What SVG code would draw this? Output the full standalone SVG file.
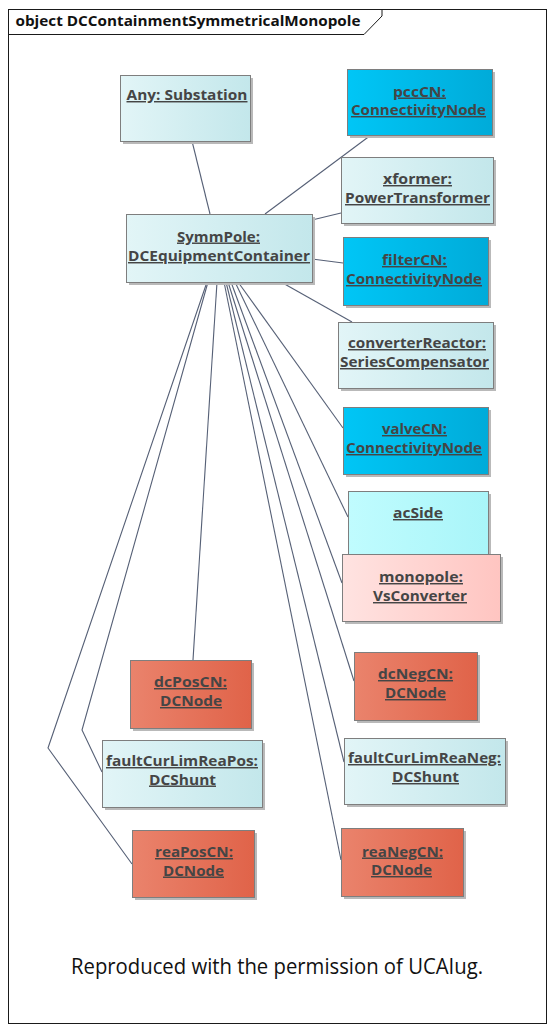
<svg xmlns="http://www.w3.org/2000/svg" width="555" height="1032" viewBox="0 0 555 1032">
<style>
.bg{fill:#ffffff}
.frame{fill:none;stroke:#1a1a1a;stroke-width:1}
.title{font-family:"Open Sans","Liberation Sans",sans-serif;font-weight:700;font-size:15px;fill:#111}
.foot{font-family:"Open Sans","Liberation Sans",sans-serif;font-size:21px;fill:#111}
.box{stroke:#7e7e7e;stroke-width:1}
.sh{fill:#b9b9b9}
.lbl{font-family:"Open Sans","Liberation Sans",sans-serif;font-weight:700;font-size:14.5px;fill:#454545;text-anchor:middle;text-decoration:underline}
.conn{fill:none;stroke:#566076;stroke-width:1.1}
.cy{fill:url(#gCyan)}
.bl{fill:url(#gBlue)}
.ac{fill:url(#gAc)}
.pk{fill:url(#gPink)}
.or{fill:url(#gOr)}
</style>
<defs>
<linearGradient id="gCyan" x1="0" y1="0" x2="1" y2="0"><stop offset="0" stop-color="#e2f5f7"/><stop offset="1" stop-color="#c3e7eb"/></linearGradient>
<linearGradient id="gBlue" x1="0" y1="0" x2="1" y2="0"><stop offset="0" stop-color="#00c6f6"/><stop offset="1" stop-color="#00abd9"/></linearGradient>
<linearGradient id="gAc" x1="0" y1="0" x2="1" y2="0"><stop offset="0" stop-color="#c0fcfe"/><stop offset="1" stop-color="#a9f5f9"/></linearGradient>
<linearGradient id="gPink" x1="0" y1="0" x2="1" y2="0"><stop offset="0" stop-color="#ffe3e1"/><stop offset="1" stop-color="#ffc5c1"/></linearGradient>
<linearGradient id="gOr" x1="0" y1="0" x2="1" y2="0"><stop offset="0" stop-color="#ea836c"/><stop offset="1" stop-color="#e06349"/></linearGradient>
</defs>
<rect class="bg" x="0" y="0" width="555" height="1032"/>
<g id="frame">
<rect class="frame" x="8.5" y="9.5" width="538" height="1014"/>
<path class="frame" d="M8.5,34.5 H364 L382,16 V9.5"/>
<text class="title" x="15.5" y="26" textLength="345" lengthAdjust="spacingAndGlyphs">object DCContainmentSymmetricalMonopole</text>
</g>
<g id="connectors">
<line class="conn" x1="192" y1="141" x2="210" y2="214"/>
<line class="conn" x1="371" y1="135" x2="265" y2="214"/>
<line class="conn" x1="341" y1="213" x2="312" y2="220"/>
<line class="conn" x1="312" y1="259" x2="343" y2="263"/>
<line class="conn" x1="281" y1="282" x2="352" y2="322"/>
<line class="conn" x1="238" y1="282" x2="343" y2="428"/>
<line class="conn" x1="235" y1="282" x2="348" y2="517"/>
<line class="conn" x1="231" y1="282" x2="342" y2="583"/>
<line class="conn" x1="228" y1="282" x2="354" y2="681"/>
<line class="conn" x1="226" y1="282" x2="344" y2="762"/>
<line class="conn" x1="224" y1="282" x2="341" y2="860"/>
<line class="conn" x1="217" y1="282" x2="193" y2="660"/>
<polyline class="conn" points="208,282 82,730 102,772"/>
<polyline class="conn" points="207,282 48,748 132,864"/>
</g>
<g id="anySubstation">
<rect class="sh" x="123" y="78" width="130" height="66"/>
<rect class="box cy" x="120.5" y="75.5" width="130" height="66"/>
<text class="lbl" x="187" y="100" textLength="121" lengthAdjust="spacingAndGlyphs">Any: Substation</text>
</g>
<g id="pccCN">
<rect class="sh" x="350" y="72" width="145" height="66"/>
<rect class="box bl" x="347.5" y="69.5" width="145" height="66"/>
<text class="lbl" x="419.5" y="96.5" textLength="53" lengthAdjust="spacingAndGlyphs">pccCN:</text>
<text class="lbl" x="418.5" y="115" textLength="135" lengthAdjust="spacingAndGlyphs">ConnectivityNode</text>
</g>
<g id="xformer">
<rect class="sh" x="344" y="160" width="152" height="66"/>
<rect class="box cy" x="341.5" y="157.5" width="152" height="66"/>
<text class="lbl" x="417.5" y="184" textLength="69" lengthAdjust="spacingAndGlyphs">xformer:</text>
<text class="lbl" x="417.5" y="203" textLength="145" lengthAdjust="spacingAndGlyphs">PowerTransformer</text>
</g>
<g id="symmPole">
<rect class="sh" x="129" y="217" width="186" height="68"/>
<rect class="box cy" x="126.5" y="214.5" width="186" height="68"/>
<text class="lbl" x="218.5" y="241.5" textLength="83" lengthAdjust="spacingAndGlyphs">SymmPole:</text>
<text class="lbl" x="219" y="261" textLength="182" lengthAdjust="spacingAndGlyphs">DCEquipmentContainer</text>
</g>
<g id="filterCN">
<rect class="sh" x="346" y="240" width="145" height="68"/>
<rect class="box bl" x="343.5" y="237.5" width="145" height="68"/>
<text class="lbl" x="414.5" y="265" textLength="65" lengthAdjust="spacingAndGlyphs">filterCN:</text>
<text class="lbl" x="414" y="284" textLength="136" lengthAdjust="spacingAndGlyphs">ConnectivityNode</text>
</g>
<g id="converterReactor">
<rect class="sh" x="341" y="325" width="155" height="66"/>
<rect class="box cy" x="338.5" y="322.5" width="155" height="66"/>
<text class="lbl" x="417" y="348" textLength="138" lengthAdjust="spacingAndGlyphs">converterReactor:</text>
<text class="lbl" x="414.5" y="367" textLength="149" lengthAdjust="spacingAndGlyphs">SeriesCompensator</text>
</g>
<g id="valveCN">
<rect class="sh" x="346" y="410" width="145" height="67"/>
<rect class="box bl" x="343.5" y="407.5" width="145" height="67"/>
<text class="lbl" x="414.5" y="434" textLength="65" lengthAdjust="spacingAndGlyphs">valveCN:</text>
<text class="lbl" x="414" y="453" textLength="136" lengthAdjust="spacingAndGlyphs">ConnectivityNode</text>
</g>
<g id="acSide">
<rect class="sh" x="351" y="494" width="140" height="66"/>
<rect class="box ac" x="348.5" y="491.5" width="140" height="70"/>
<text class="lbl" x="418" y="518" textLength="50" lengthAdjust="spacingAndGlyphs">acSide</text>
</g>
<g id="monopole">
<rect class="sh" x="345" y="557" width="158" height="67"/>
<rect class="box pk" x="342.5" y="554.5" width="158" height="67"/>
<text class="lbl" x="421" y="582" textLength="84" lengthAdjust="spacingAndGlyphs">monopole:</text>
<text class="lbl" x="420" y="601" textLength="94" lengthAdjust="spacingAndGlyphs">VsConverter</text>
</g>
<g id="dcPosCN">
<rect class="sh" x="133" y="663" width="121" height="68"/>
<rect class="box or" x="130.5" y="660.5" width="121" height="68"/>
<text class="lbl" x="190.5" y="687" textLength="73" lengthAdjust="spacingAndGlyphs">dcPosCN:</text>
<text class="lbl" x="191" y="706" textLength="62" lengthAdjust="spacingAndGlyphs">DCNode</text>
</g>
<g id="dcNegCN">
<rect class="sh" x="357" y="655" width="123" height="68"/>
<rect class="box or" x="354.5" y="652.5" width="123" height="68"/>
<text class="lbl" x="415.5" y="679" textLength="75" lengthAdjust="spacingAndGlyphs">dcNegCN:</text>
<text class="lbl" x="415.5" y="698" textLength="61" lengthAdjust="spacingAndGlyphs">DCNode</text>
</g>
<g id="faultCurLimReaPos">
<rect class="sh" x="105" y="743" width="160" height="67"/>
<rect class="box cy" x="102.5" y="740.5" width="160" height="67"/>
<text class="lbl" x="182" y="766" textLength="152" lengthAdjust="spacingAndGlyphs">faultCurLimReaPos:</text>
<text class="lbl" x="182.5" y="784.5" textLength="67" lengthAdjust="spacingAndGlyphs">DCShunt</text>
</g>
<g id="faultCurLimReaNeg">
<rect class="sh" x="347" y="741" width="161" height="66"/>
<rect class="box cy" x="344.5" y="738.5" width="161" height="66"/>
<text class="lbl" x="424.5" y="763" textLength="153" lengthAdjust="spacingAndGlyphs">faultCurLimReaNeg:</text>
<text class="lbl" x="425.5" y="782" textLength="67" lengthAdjust="spacingAndGlyphs">DCShunt</text>
</g>
<g id="reaPosCN">
<rect class="sh" x="135" y="833" width="122" height="67"/>
<rect class="box or" x="132.5" y="830.5" width="122" height="67"/>
<text class="lbl" x="194" y="857" textLength="78" lengthAdjust="spacingAndGlyphs">reaPosCN:</text>
<text class="lbl" x="193.5" y="875.5" textLength="61" lengthAdjust="spacingAndGlyphs">DCNode</text>
</g>
<g id="reaNegCN">
<rect class="sh" x="344" y="831" width="122" height="68"/>
<rect class="box or" x="341.5" y="828.5" width="122" height="68"/>
<text class="lbl" x="402.5" y="856.5" textLength="81" lengthAdjust="spacingAndGlyphs">reaNegCN:</text>
<text class="lbl" x="401.5" y="875" textLength="61" lengthAdjust="spacingAndGlyphs">DCNode</text>
</g>
<g id="footer">
<text class="foot" x="71" y="974" textLength="412" lengthAdjust="spacingAndGlyphs">Reproduced with the permission of UCAIug.</text>
</g>
</svg>
